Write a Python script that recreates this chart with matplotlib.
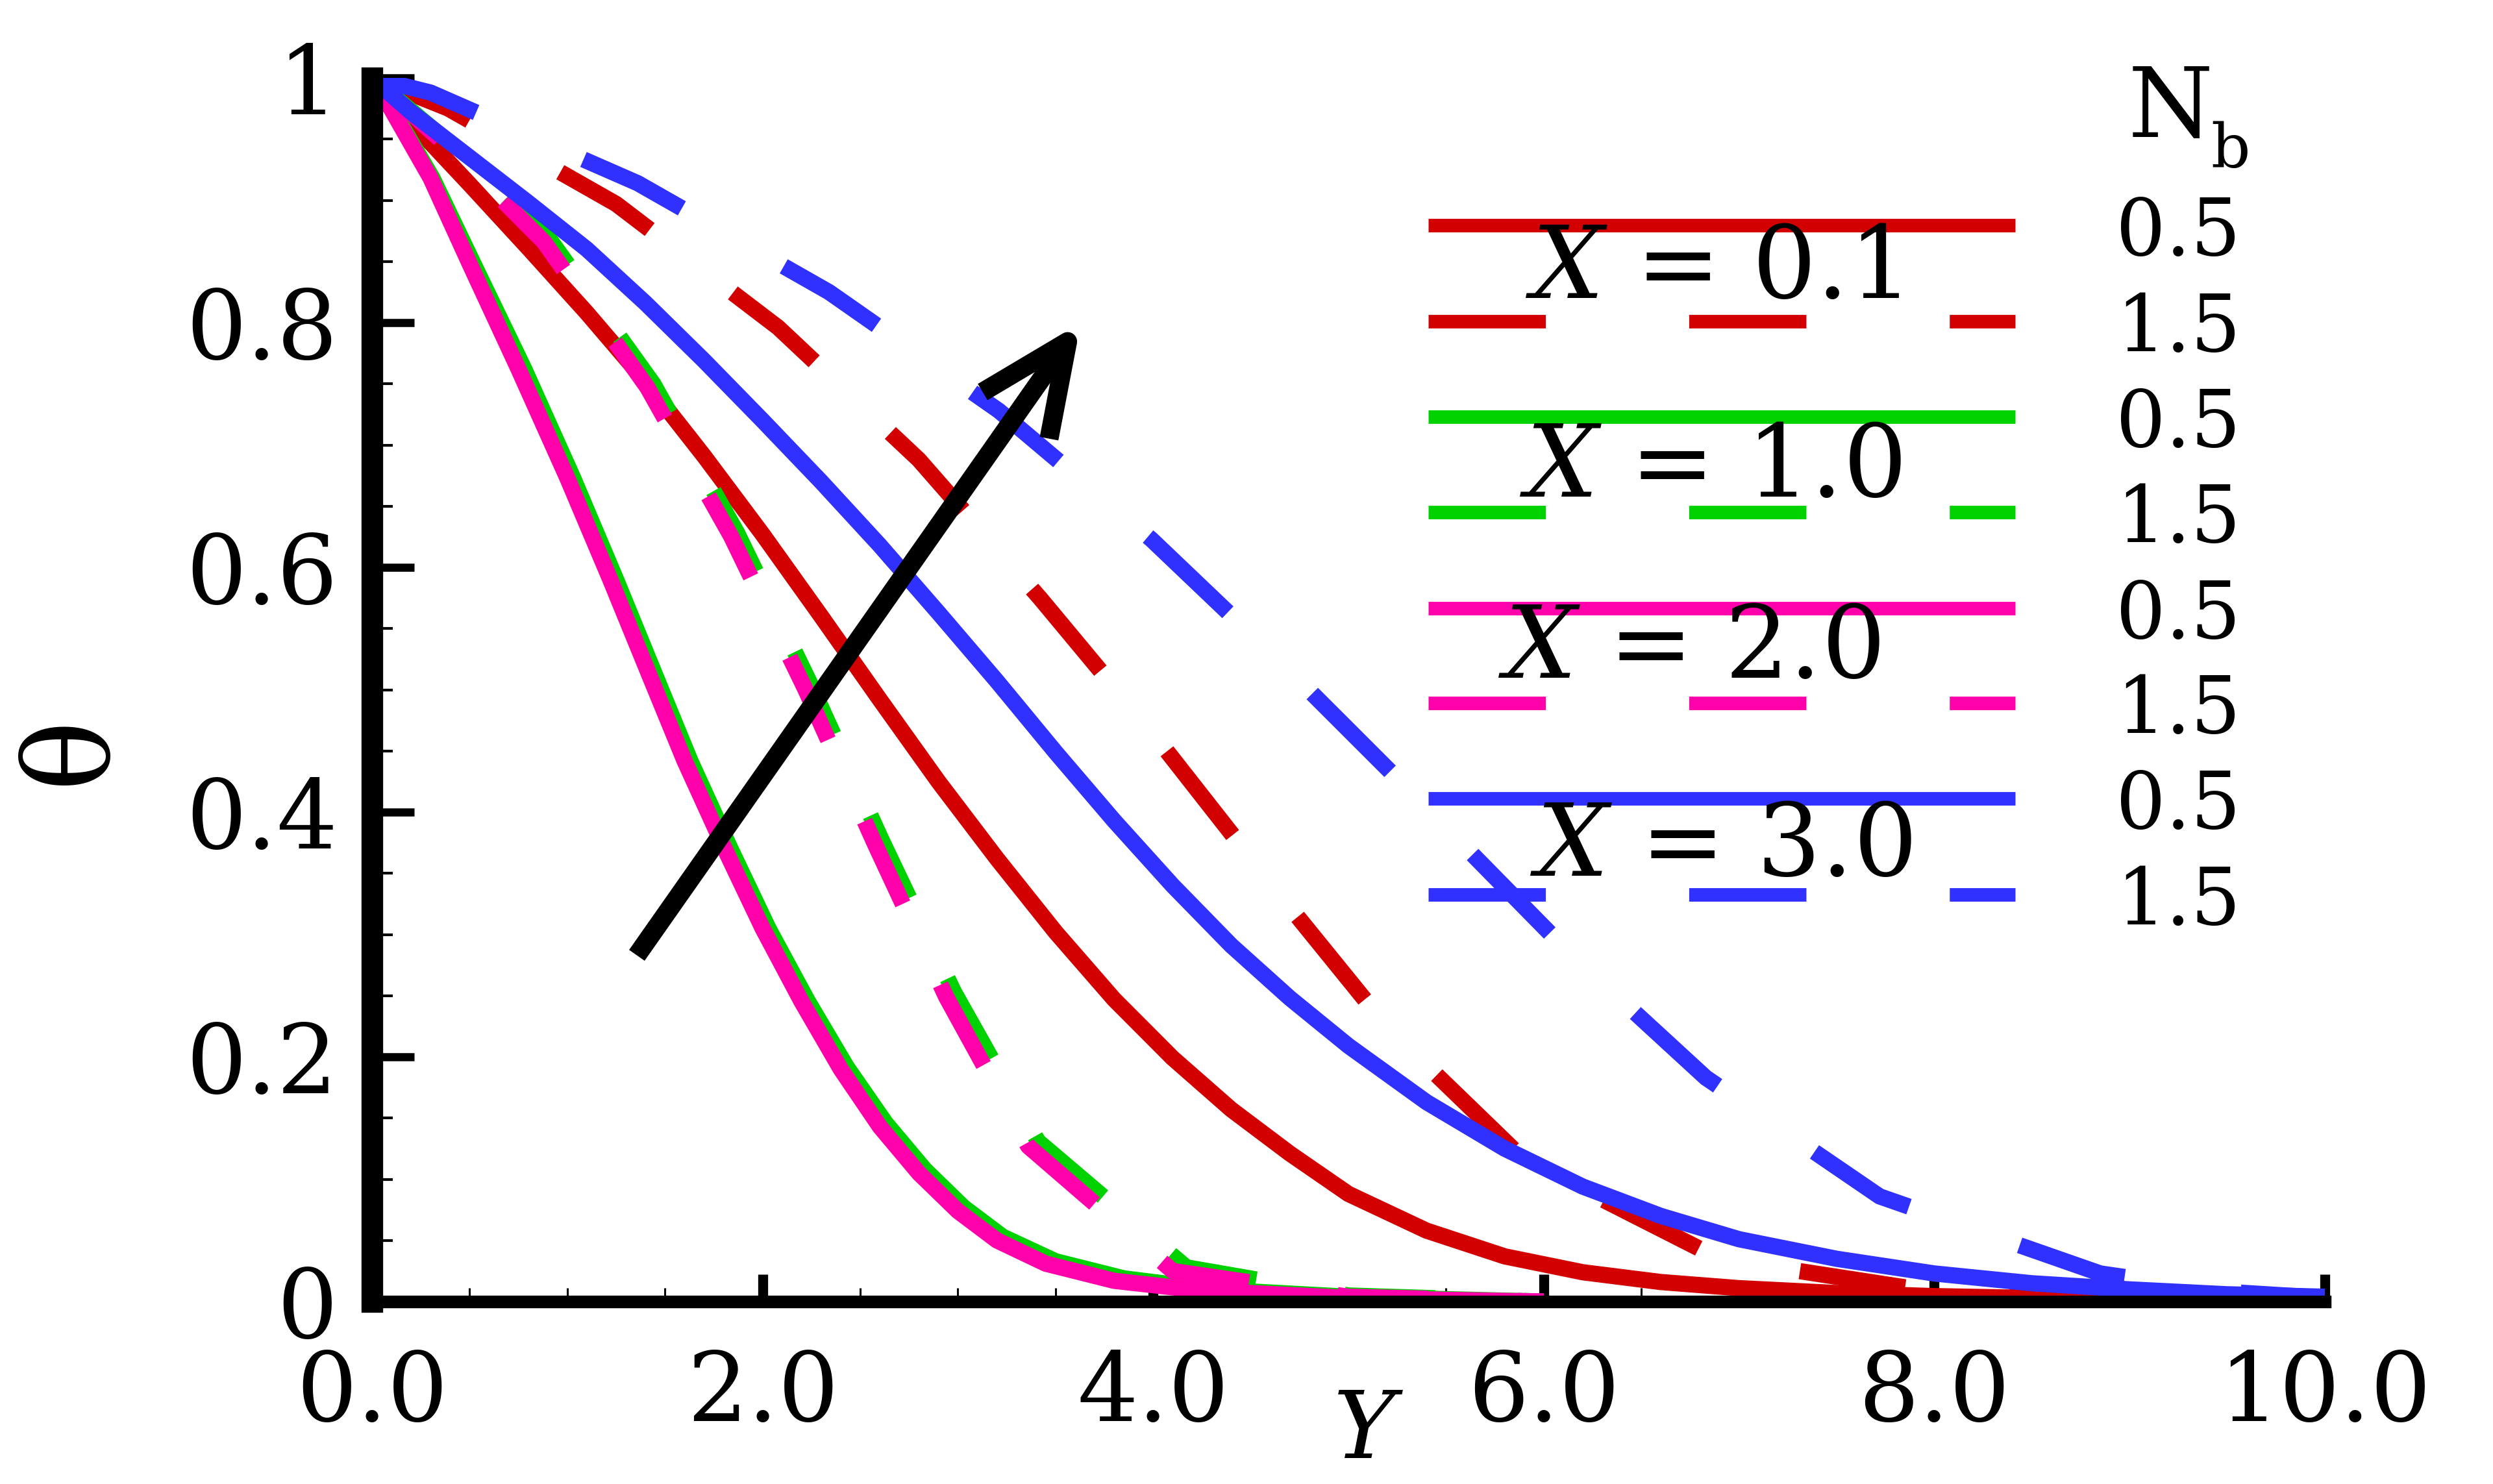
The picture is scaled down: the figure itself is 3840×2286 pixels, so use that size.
import matplotlib
matplotlib.use("Agg")
import matplotlib.pyplot as plt
from matplotlib.patches import FancyArrowPatch
from matplotlib.ticker import MultipleLocator

# --- data (Y, theta) ---
# X = 0.1
y_x01_nb05 = [0, 0.2, 0.5, 0.8, 1.1, 1.4, 1.7, 2.0, 2.3, 2.6, 2.9, 3.2, 3.5, 3.8, 4.1,
              4.4, 4.7, 5.0, 5.4, 5.8, 6.2, 6.6, 7.0, 7.5, 8.0, 8.5, 9.0, 10]
t_x01_nb05 = [1, 0.964, 0.913, 0.861, 0.808, 0.752, 0.691, 0.627, 0.560, 0.492, 0.425,
              0.362, 0.302, 0.247, 0.199, 0.157, 0.121, 0.088, 0.058, 0.037, 0.024,
              0.016, 0.011, 0.007, 0.0045, 0.003, 0.002, 0.001]
y_x01_nb15 = [0, 0.39, 1.25, 2.08, 2.8, 3.42, 4.03, 4.6, 5.2, 5.9, 6.9, 8.0, 9.0, 10]
t_x01_nb15 = [1, 0.975, 0.897, 0.796, 0.688, 0.575, 0.458, 0.342, 0.224, 0.116, 0.035,
              0.008, 0.002, 0.0]

# X = 1.0
y_x10_nb05 = [0, 0.1, 0.31, 0.52, 0.78, 1.03, 1.25, 1.45, 1.63, 1.83, 2.03, 2.23, 2.43,
              2.63, 2.83, 3.03, 3.23, 3.5, 3.85, 4.3, 5.0, 6.0]
t_x10_nb05 = [1, 0.975, 0.918, 0.848, 0.762, 0.673, 0.590, 0.512, 0.442, 0.372, 0.305,
              0.246, 0.192, 0.146, 0.108, 0.077, 0.053, 0.033, 0.019, 0.010, 0.004, 0.0]
y_x10_nb15 = [0, 0.47, 0.91, 1.44, 1.87, 2.25, 2.61, 2.98, 3.41, 4.17, 5.0, 6.0]
t_x10_nb15 = [1, 0.937, 0.868, 0.75, 0.628, 0.503, 0.377, 0.253, 0.131, 0.028, 0.005, 0.0]

# X = 2.0
y_x20_nb05 = [0, 0.1, 0.3, 0.5, 0.75, 1.0, 1.22, 1.42, 1.6, 1.8, 2.0, 2.2, 2.4, 2.6,
              2.8, 3.0, 3.2, 3.45, 3.8, 4.25, 5.0, 6.0]
t_x20_nb05 = [1, 0.974, 0.918, 0.848, 0.762, 0.673, 0.590, 0.512, 0.442, 0.372, 0.305,
              0.245, 0.190, 0.143, 0.105, 0.074, 0.050, 0.031, 0.017, 0.009, 0.003, 0.0]
y_x20_nb15 = [0, 0.45, 0.88, 1.41, 1.84, 2.22, 2.575, 2.94, 3.36, 4.1, 5.0, 6.0]
t_x20_nb15 = [1, 0.935, 0.866, 0.747, 0.625, 0.50, 0.374, 0.249, 0.127, 0.025, 0.004, 0.0]

# X = 3.0
y_x30_nb05 = [0, 0.2, 0.5, 0.8, 1.1, 1.4, 1.7, 2.0, 2.3, 2.6, 2.9, 3.2, 3.5, 3.8, 4.1,
              4.4, 4.7, 5.0, 5.4, 5.8, 6.2, 6.6, 7.0, 7.5, 8.0, 8.5, 9.0, 9.5, 10]
t_x30_nb05 = [1, 0.972, 0.935, 0.898, 0.860, 0.816, 0.769, 0.720, 0.670, 0.618, 0.563,
              0.507, 0.449, 0.393, 0.340, 0.291, 0.248, 0.209, 0.163, 0.125, 0.094,
              0.070, 0.051, 0.035, 0.023, 0.015, 0.010, 0.006, 0.004]
y_x30_nb15 = [0, 0.3, 1.36, 2.34, 3.21, 3.99, 4.72, 5.41, 6.1, 6.83, 7.72, 8.85, 9.5, 10]
t_x30_nb15 = [1, 0.988, 0.914, 0.825, 0.728, 0.623, 0.512, 0.402, 0.29, 0.183, 0.086,
              0.023, 0.008, 0.003]

x_labels = ["0.1", "1.0", "2.0", "3.0"]
nb_labels = ["0.5", "1.5"]
x_ticks = [0, 2, 4, 6, 8, 10]
x_tick_labels = ["0.0", "2.0", "4.0", "6.0", "8.0", "10.0"]
y_ticks = [0, 0.2, 0.4, 0.6, 0.8, 1.0]
y_tick_labels = ["0", "0.2", "0.4", "0.6", "0.8", "1"]

colors = ["#d20000", "#00d200", "#ff00aa", "#3030ff"]

plt.rcParams["font.family"] = ["DejaVu Serif"]
plt.rcParams["mathtext.fontset"] = "dejavuserif"
plt.rcParams["lines.scale_dashes"] = False

fig = plt.figure(figsize=(38.41, 22.86), dpi=100)
ax = fig.add_axes([0.1492, 0.1229, 0.7831, 0.8246])
ax.set_xlim(0, 10)
ax.set_ylim(0, 1)

curves = [
    (y_x01_nb05, t_x01_nb05, y_x01_nb15, t_x01_nb15, (118, 116)),
    (y_x10_nb05, t_x10_nb05, y_x10_nb15, t_x10_nb15, (101, 99)),
    (y_x20_nb05, t_x20_nb05, y_x20_nb15, t_x20_nb15, (101, 99)),
    (y_x30_nb05, t_x30_nb05, y_x30_nb15, t_x30_nb15, (122, 130)),
]
for c, (ys, ts, yd, td, dash) in zip(colors, curves):
    ax.plot(ys, ts, color=c, lw=18, solid_capstyle="butt", solid_joinstyle="round")
    ax.plot(yd, td, color=c, lw=18, dashes=dash, dash_capstyle="butt")

# arrow showing the trend
ax.add_patch(FancyArrowPatch((1.356, 0.283), (3.63, 0.80),
                             arrowstyle="->,head_length=1.0,head_width=0.45",
                             mutation_scale=100, lw=21, color="black",
                             shrinkA=0, shrinkB=0, capstyle="butt", joinstyle="round",
                             zorder=5))

# legend drawn by hand, Tecplot style
rows = [0.8796, 0.801, 0.723, 0.645, 0.5666, 0.489, 0.411, 0.3326]
text_y = [0.820, 0.658, 0.510, 0.348]
text_x = [0.6865, 0.6852, 0.6742, 0.6905]
for i, c in enumerate(colors):
    ax.plot([0.541, 0.8414], [rows[2 * i]] * 2, transform=ax.transAxes, color=c,
            lw=15, solid_capstyle="butt", clip_on=False)
    ax.plot([0.541, 0.8414], [rows[2 * i + 1]] * 2, transform=ax.transAxes, color=c,
            lw=15, dashes=(130, 159), dash_capstyle="butt", clip_on=False)
    ax.text(text_x[i], text_y[i], rf"$X$ = {x_labels[i]}", transform=ax.transAxes,
            fontsize=112, ha="center", va="baseline")
    for j in range(2):
        ax.text(0.893, rows[2 * i + j], nb_labels[j], transform=ax.transAxes,
                fontsize=87, ha="left", va="center_baseline")
ax.text(0.899, 0.9517, "N", transform=ax.transAxes, fontsize=108, ha="left", va="baseline")
ax.text(0.9415, 0.927, "b", transform=ax.transAxes, fontsize=68, ha="left", va="baseline")

# axes styling
for s in ["top", "right"]:
    ax.spines[s].set_visible(False)
ax.spines["left"].set_linewidth(24)
ax.spines["bottom"].set_linewidth(14)
ax.set_xticks(x_ticks, x_tick_labels)
ax.set_yticks(y_ticks, y_tick_labels)
ax.xaxis.set_minor_locator(MultipleLocator(0.5))
ax.yaxis.set_minor_locator(MultipleLocator(0.05))
ax.tick_params(axis="x", which="major", direction="in", length=30, width=11,
               labelsize=106, pad=52)
ax.tick_params(axis="y", which="major", direction="in", length=47, width=9,
               labelsize=106, pad=38)
ax.tick_params(axis="x", which="minor", direction="in", length=15, width=2.2)
ax.tick_params(axis="y", which="minor", direction="in", length=23, width=3)

ax.set_xlabel("Y", fontsize=104, fontstyle="italic", va="center")
ax.xaxis.set_label_coords(0.508, -0.107)
ax.set_ylabel("θ", fontsize=130, rotation=90, va="center")
ax.yaxis.set_label_coords(-0.154, 0.451)

fig.savefig("out.png", dpi=100)
